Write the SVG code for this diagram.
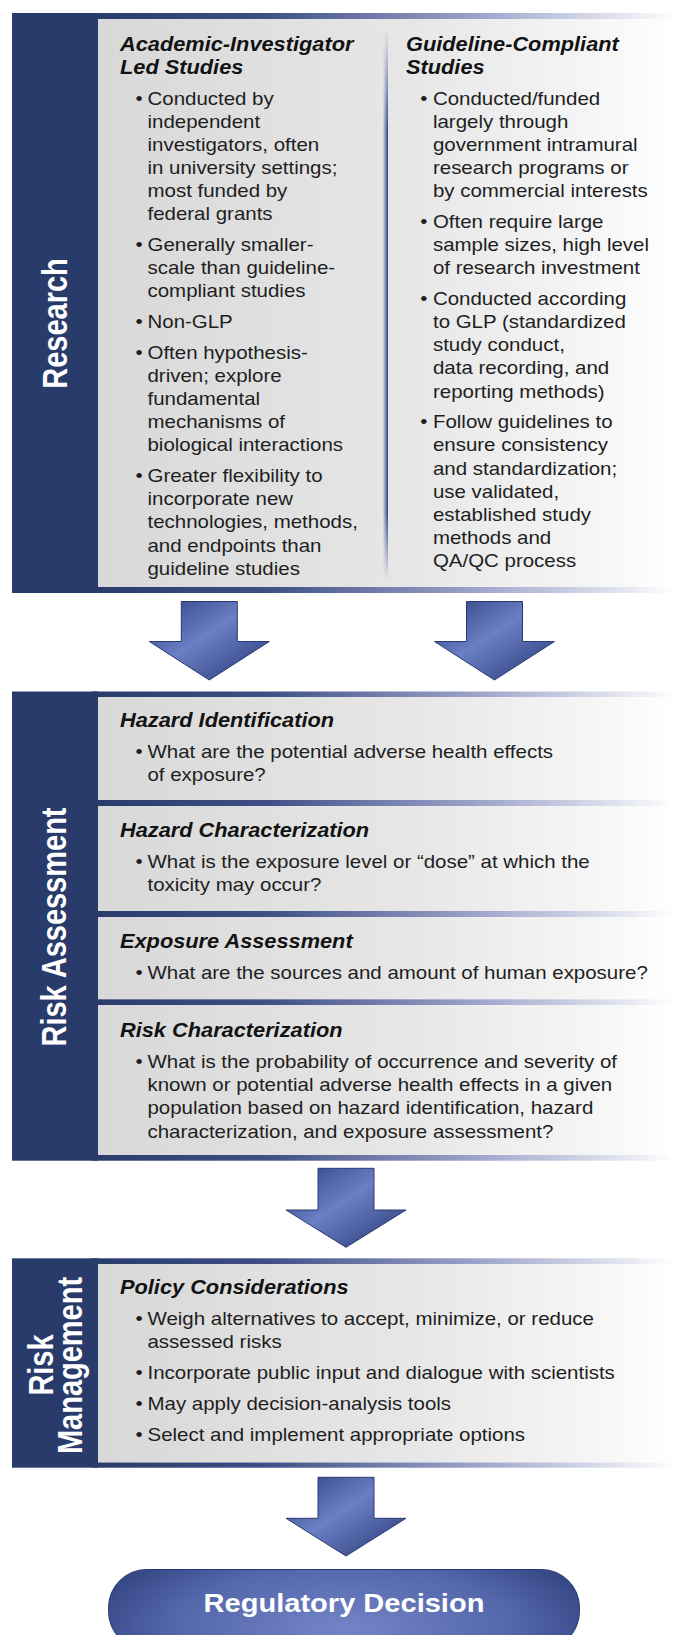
<svg xmlns="http://www.w3.org/2000/svg" width="675" height="1635" viewBox="0 0 675 1635">
  <style>
    .bar { fill: #293b6b; }
    .band { fill: url(#bandGrad); }
    .panel { fill: url(#panelGrad); }
    .body { font-family: "Liberation Sans", Arial, sans-serif; font-size: 18.6px; fill: #1e1e1e; }
    .ttl { font-family: "Liberation Sans", Arial, sans-serif; font-size: 19.8px; font-weight: bold; font-style: italic; fill: #121212; }
    .lbl { font-family: "Liberation Sans", Arial, sans-serif; font-size: 29px; font-weight: bold; fill: #ffffff; text-anchor: middle; }
    .arrow { fill: url(#arrowGrad); stroke: #2a3a72; stroke-width: 1; stroke-linejoin: miter; }
    .decision { font-family: "Liberation Sans", Arial, sans-serif; font-size: 26.4px; font-weight: bold; fill: #ffffff; text-anchor: middle; }
  </style>
  <defs>
    <linearGradient id="bandGrad" gradientUnits="userSpaceOnUse" x1="92" y1="0" x2="675" y2="0">
      <stop offset="0" stop-color="#293b6b"/>
      <stop offset="0.3" stop-color="#3f4f86"/>
      <stop offset="0.65" stop-color="#9aa1c8"/>
      <stop offset="0.92" stop-color="#e6e8f2"/>
      <stop offset="1" stop-color="#ffffff"/>
    </linearGradient>
    <linearGradient id="panelGrad" gradientUnits="userSpaceOnUse" x1="98" y1="0" x2="675" y2="0">
      <stop offset="0" stop-color="#d8d8d8"/>
      <stop offset="0.55" stop-color="#e7e7e7"/>
      <stop offset="0.85" stop-color="#f5f5f5"/>
      <stop offset="1" stop-color="#ffffff"/>
    </linearGradient>
    <linearGradient id="arrowGrad" x1="0" y1="0" x2="1" y2="1">
      <stop offset="0" stop-color="#2c3f80"/>
      <stop offset="0.45" stop-color="#6a7fc4"/>
      <stop offset="1" stop-color="#263672"/>
    </linearGradient>
    <radialGradient id="pillGrad" cx="0.5" cy="0.75" r="0.6" gradientTransform="translate(0.5 0.75) scale(1 2.2) translate(-0.5 -0.75)">
      <stop offset="0" stop-color="#7384c6"/>
      <stop offset="0.6" stop-color="#5467ab"/>
      <stop offset="1" stop-color="#2e3f7c"/>
    </radialGradient>
    <linearGradient id="divGrad" gradientUnits="userSpaceOnUse" x1="381" y1="0" x2="388" y2="0">
      <stop offset="0" stop-color="#ffffff" stop-opacity="0"/>
      <stop offset="0.5" stop-color="#a3aad0"/>
      <stop offset="0.8" stop-color="#5a6aa0"/>
      <stop offset="1" stop-color="#2b3d6e"/>
    </linearGradient>
    <linearGradient id="divFade" gradientUnits="userSpaceOnUse" x1="0" y1="30" x2="0" y2="580">
      <stop offset="0" stop-color="#000000"/>
      <stop offset="0.18" stop-color="#ffffff"/>
      <stop offset="0.88" stop-color="#ffffff"/>
      <stop offset="1" stop-color="#000000"/>
    </linearGradient>
    <mask id="divMask" maskUnits="userSpaceOnUse" x="370" y="20" width="30" height="570">
      <rect x="370" y="30" width="30" height="550" fill="url(#divFade)"/>
    </mask>
  </defs>

  <!-- Research stage -->
  <g id="research">
    <rect class="bar" x="12" y="13" width="86" height="580"/>
    <rect class="band" x="92" y="13" width="583" height="6"/>
    <rect class="panel" x="98" y="19" width="577" height="568"/>
    <rect class="band" x="92" y="587" width="583" height="6"/>
    <rect x="381" y="30" width="7" height="550" fill="url(#divGrad)" mask="url(#divMask)"/>
    <text class="lbl" transform="translate(66.8 323.5) scale(1.2 1) rotate(-90)">Research</text>

    <g id="academic-studies" transform="translate(120 0) scale(1.1 1)">
      <text class="ttl" x="0" y="50.7">Academic-Investigator</text>
      <text class="ttl" x="0" y="74">Led Studies</text>
      <text class="body" y="105"><tspan x="14">•</tspan><tspan x="25">Conducted by</tspan></text>
      <text class="body" x="25" y="128.1">independent</text>
      <text class="body" x="25" y="151.2">investigators, often</text>
      <text class="body" x="25" y="174.3">in university settings;</text>
      <text class="body" x="25" y="197.4">most funded by</text>
      <text class="body" x="25" y="220.5">federal grants</text>
      <text class="body" y="251.3"><tspan x="14">•</tspan><tspan x="25">Generally smaller-</tspan></text>
      <text class="body" x="25" y="274.4">scale than guideline-</text>
      <text class="body" x="25" y="297.5">compliant studies</text>
      <text class="body" y="328.3"><tspan x="14">•</tspan><tspan x="25">Non-GLP</tspan></text>
      <text class="body" y="359.1"><tspan x="14">•</tspan><tspan x="25">Often hypothesis-</tspan></text>
      <text class="body" x="25" y="382.2">driven; explore</text>
      <text class="body" x="25" y="405.3">fundamental</text>
      <text class="body" x="25" y="428.4">mechanisms of</text>
      <text class="body" x="25" y="451.5">biological interactions</text>
      <text class="body" y="482.3"><tspan x="14">•</tspan><tspan x="25">Greater flexibility to</tspan></text>
      <text class="body" x="25" y="505.4">incorporate new</text>
      <text class="body" x="25" y="528.5">technologies, methods,</text>
      <text class="body" x="25" y="551.6">and endpoints than</text>
      <text class="body" x="25" y="574.7">guideline studies</text>
    </g>

    <g id="guideline-studies" transform="translate(406 0) scale(1.1 1)">
      <text class="ttl" x="0" y="50.7">Guideline-Compliant</text>
      <text class="ttl" x="0" y="74">Studies</text>
      <text class="body" y="105"><tspan x="13">•</tspan><tspan x="24.5">Conducted/funded</tspan></text>
      <text class="body" x="24.5" y="128.1">largely through</text>
      <text class="body" x="24.5" y="151.2">government intramural</text>
      <text class="body" x="24.5" y="174.3">research programs or</text>
      <text class="body" x="24.5" y="197.4">by commercial interests</text>
      <text class="body" y="228.2"><tspan x="13">•</tspan><tspan x="24.5">Often require large</tspan></text>
      <text class="body" x="24.5" y="251.3">sample sizes, high level</text>
      <text class="body" x="24.5" y="274.4">of research investment</text>
      <text class="body" y="305.2"><tspan x="13">•</tspan><tspan x="24.5">Conducted according</tspan></text>
      <text class="body" x="24.5" y="328.3">to GLP (standardized</text>
      <text class="body" x="24.5" y="351.4">study conduct,</text>
      <text class="body" x="24.5" y="374.5">data recording, and</text>
      <text class="body" x="24.5" y="397.6">reporting methods)</text>
      <text class="body" y="428.4"><tspan x="13">•</tspan><tspan x="24.5">Follow guidelines to</tspan></text>
      <text class="body" x="24.5" y="451.5">ensure consistency</text>
      <text class="body" x="24.5" y="474.6">and standardization;</text>
      <text class="body" x="24.5" y="497.7">use validated,</text>
      <text class="body" x="24.5" y="520.8">established study</text>
      <text class="body" x="24.5" y="543.9">methods and</text>
      <text class="body" x="24.5" y="567">QA/QC process</text>
    </g>
  </g>

  <!-- Risk assessment stage -->
  <g id="risk-assessment">
    <rect class="bar" x="12" y="691.5" width="86" height="469.2"/>
    <rect class="band" x="92" y="691.5" width="583" height="5.5"/>
    <rect class="panel" x="98" y="697" width="577" height="103"/>
    <rect class="band" x="98" y="800" width="577" height="6"/>
    <rect class="panel" x="98" y="806" width="577" height="105"/>
    <rect class="band" x="98" y="911" width="577" height="6"/>
    <rect class="panel" x="98" y="917" width="577" height="82.3"/>
    <rect class="band" x="98" y="999.3" width="577" height="5.7"/>
    <rect class="panel" x="98" y="1005" width="577" height="150"/>
    <rect class="band" x="92" y="1155" width="583" height="5.7"/>
    <text class="lbl" transform="translate(65.8 927) scale(1.2 1) rotate(-90)">Risk Assessment</text>

    <g id="hazard-identification" transform="translate(120 0) scale(1.1 1)">
      <text class="ttl" x="0" y="727">Hazard Identification</text>
      <text class="body" y="758.3"><tspan x="14">•</tspan><tspan x="25">What are the potential adverse health effects</tspan></text>
      <text class="body" x="25" y="781.4">of exposure?</text>
    </g>
    <g id="hazard-characterization" transform="translate(120 0) scale(1.1 1)">
      <text class="ttl" x="0" y="837.3">Hazard Characterization</text>
      <text class="body" y="868.3"><tspan x="14">•</tspan><tspan x="25">What is the exposure level or “dose” at which the</tspan></text>
      <text class="body" x="25" y="891.4">toxicity may occur?</text>
    </g>
    <g id="exposure-assessment" transform="translate(120 0) scale(1.1 1)">
      <text class="ttl" x="0" y="948.3">Exposure Assessment</text>
      <text class="body" y="979.3"><tspan x="14">•</tspan><tspan x="25">What are the sources and amount of human exposure?</tspan></text>
    </g>
    <g id="risk-characterization" transform="translate(120 0) scale(1.1 1)">
      <text class="ttl" x="0" y="1036.7">Risk Characterization</text>
      <text class="body" y="1068.3"><tspan x="14">•</tspan><tspan x="25">What is the probability of occurrence and severity of</tspan></text>
      <text class="body" x="25" y="1091.4">known or potential adverse health effects in a given</text>
      <text class="body" x="25" y="1114.5">population based on hazard identification, hazard</text>
      <text class="body" x="25" y="1137.6">characterization, and exposure assessment?</text>
    </g>
  </g>

  <!-- Risk management stage -->
  <g id="risk-management">
    <rect class="bar" x="12" y="1258.3" width="86" height="209.4"/>
    <rect class="band" x="92" y="1258.3" width="583" height="5.7"/>
    <rect class="panel" x="98" y="1264" width="577" height="198.5"/>
    <rect class="band" x="92" y="1462.5" width="583" height="5.2"/>
    <text class="lbl" transform="translate(53 1365) scale(1.2 1) rotate(-90)">Risk</text>
    <text class="lbl" transform="translate(82 1365.5) scale(1.2 1) rotate(-90)">Management</text>

    <g id="policy-considerations" transform="translate(120 0) scale(1.1 1)">
      <text class="ttl" x="0" y="1294">Policy Considerations</text>
      <text class="body" y="1325"><tspan x="14">•</tspan><tspan x="25">Weigh alternatives to accept, minimize, or reduce</tspan></text>
      <text class="body" x="25" y="1348.1">assessed risks</text>
      <text class="body" y="1379.3"><tspan x="14">•</tspan><tspan x="25">Incorporate public input and dialogue with scientists</tspan></text>
      <text class="body" y="1410"><tspan x="14">•</tspan><tspan x="25">May apply decision-analysis tools</tspan></text>
      <text class="body" y="1440.7"><tspan x="14">•</tspan><tspan x="25">Select and implement appropriate options</tspan></text>
    </g>
  </g>

  <!-- Final outcome -->
  <g id="regulatory-decision">
    <rect x="108.5" y="1569.5" width="471" height="80" rx="38" ry="38" fill="url(#pillGrad)" stroke="#2a3870" stroke-width="1"/>
    <text class="decision" transform="translate(344 1612.3) scale(1.1 1)">Regulatory Decision</text>
  </g>

  <!-- Flow arrows between stages -->
  <g id="connectors">
    <polygon class="arrow" points="181.3,601.5 237.3,601.5 237.3,641.5 269.3,641.5 209.3,680 149.3,641.5 181.3,641.5"/>
    <polygon class="arrow" points="466.5,601.5 522.5,601.5 522.5,641.5 554.5,641.5 494.5,680 434.5,641.5 466.5,641.5"/>
    <polygon class="arrow" points="318,1168.3 374,1168.3 374,1210 406,1210 346,1247.3 286,1210 318,1210"/>
    <polygon class="arrow" points="318,1477.3 374,1477.3 374,1518.3 406,1518.3 346,1556 286,1518.3 318,1518.3"/>
  </g>
</svg>
